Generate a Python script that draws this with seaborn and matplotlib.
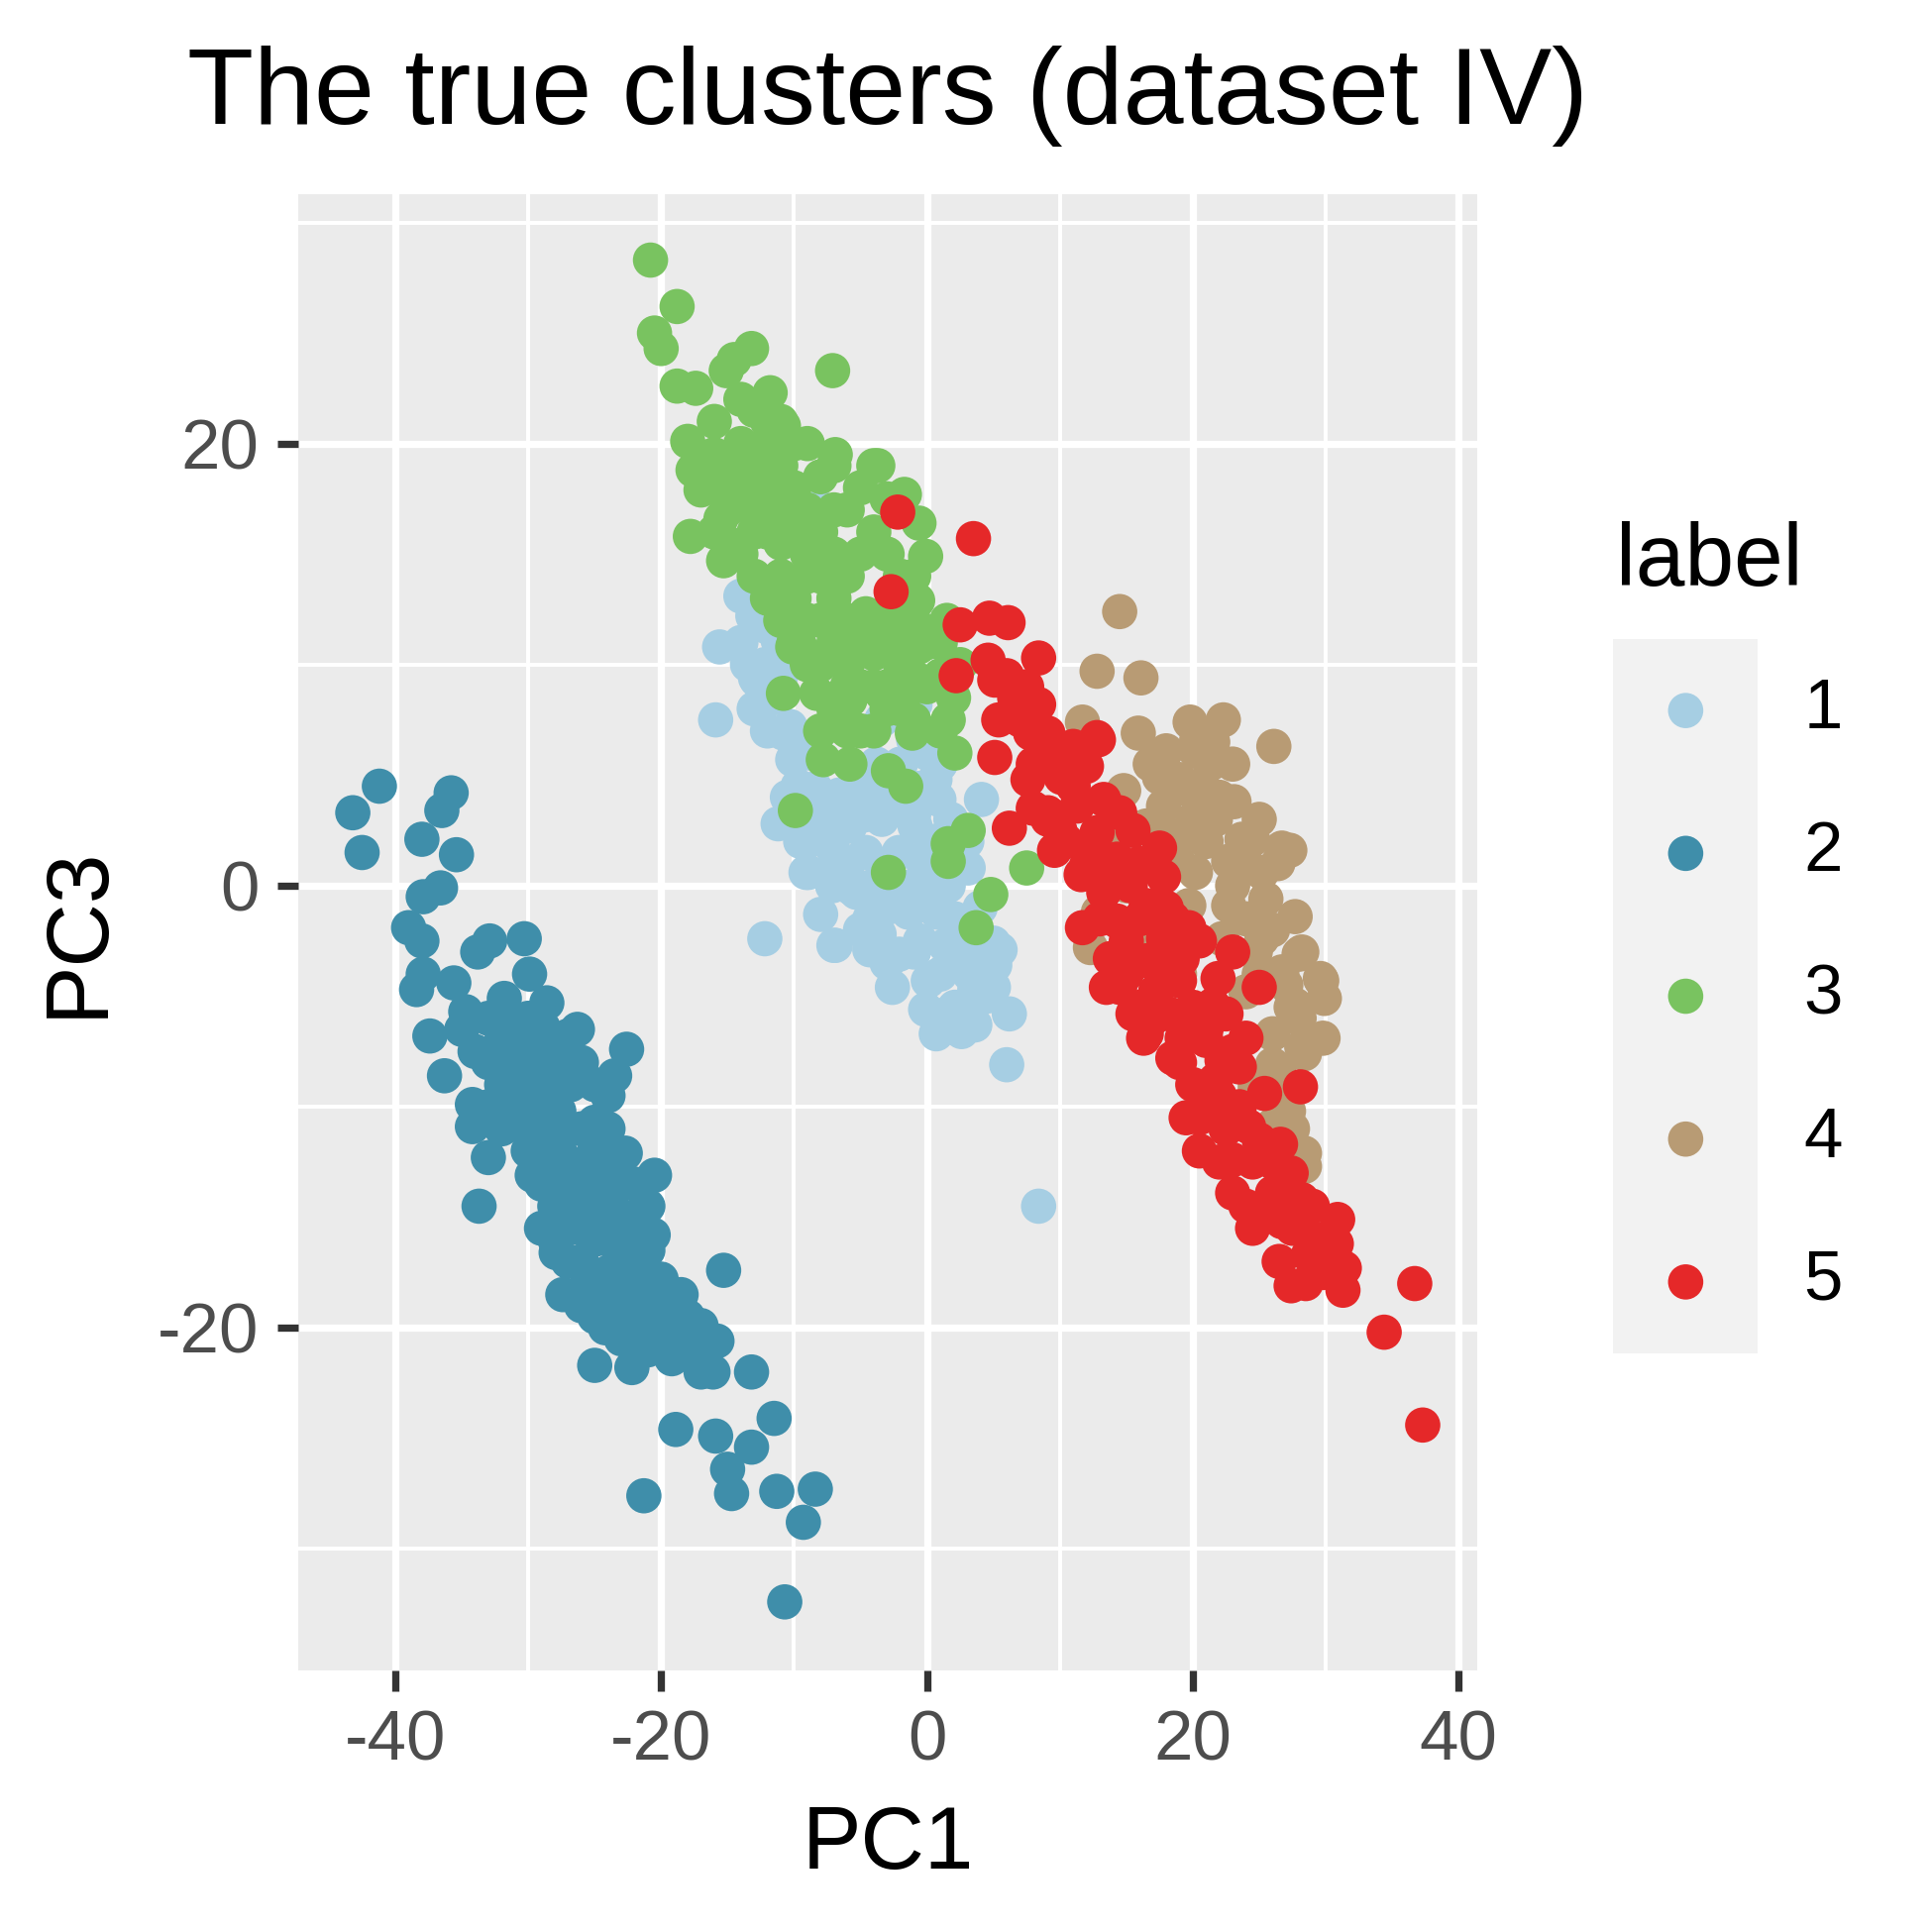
import pandas as pd
import seaborn as sns
import matplotlib.pyplot as plt
from matplotlib.ticker import MultipleLocator

# cluster labels and colours
labels = ["1", "2", "3", "4", "5"]
colors = ["#A6CEE3", "#3F8EAA", "#79C360", "#B89B74", "#E52829"]

# (PC1, PC3), one list per true cluster
c1_pts = [
    (-14.0, 13.1), (-15.6, 10.8), (-12.9, 9.4), (-15.9, 7.5), (-12.2, -2.4), (8.4, -14.5),
    (6.0, -8.1), (6.2, -5.8), (4.1, 3.9), (-13.3, 13.2), (-12.0, 11.7), (-12.8, 9.3),
    (-8.1, 17.1), (-11.2, 2.8), (-10.3, 7.2), (-9.7, 4.5), (-9.1, 0.6), (-8.0, -1.3),
    (-7.0, -2.7), (-3.6, -2.2), (-2.1, -3.1), (-2.6, -4.6), (0.1, -4.3), (-0.1, -5.6),
    (0.7, -6.7), (2.6, -6.6), (3.6, -6.3), (5.1, -3.6), (5.0, -2.6), (3.6, -4.7),
    (3.1, 0.8), (0.6, 4.8), (0.9, 3.9), (-0.9, 2.7), (-3.4, 3.0), (-5.8, 2.7),
    (-7.1, 1.7), (-4.6, 1.5), (-2.1, 1.5), (-0.4, 1.2), (1.6, 0.0), (0.4, -1.0),
    (2.1, -1.5), (-5.3, -0.3), (-7.1, 0.0), (-4.3, -1.5), (-1.4, -1.2), (1.4, -2.7),
    (2.9, -3.1), (2.1, -5.5), (-10.8, 6.9), (-8.3, 4.2), (-8.8, 6.0), (-10.1, 5.7),
    (-3.4, 7.5), (-0.9, 8.2), (-2.3, 8.7), (-8.9, 0.6), (-6.9, -2.7), (-4.3, -2.9),
    (-5.7, -0.1), (-6.6, 1.0), (-7.5, 2.1), (-2.9, 0.4), (-1.0, -0.1), (0.8, -1.2),
    (2.2, -2.4), (3.2, -4.0), (1.8, 3.0), (-1.0, 3.2), (-2.9, 3.8), (-4.7, 3.2),
    (-6.6, 4.1), (-8.4, 4.4), (-8.4, 6.6), (-6.6, 7.7), (-3.8, 5.5), (-0.6, 4.4),
    (-1.0, 6.6), (-12.2, 10.0), (-11.2, 11.1), (-13.1, 12.2), (5.0, -4.6), (1.8, -5.7),
    (4.5, -4.0), (5.5, -2.9), (-9.0, 2.0), (-8.0, 3.0), (-6.0, 3.5), (-5.0, 4.5),
    (-4.0, 5.0), (-2.0, 5.5), (0.0, 6.0), (1.0, 5.5), (-6.0, 0.5), (-4.0, 0.0),
    (-3.0, -1.0), (-2.0, -0.5), (0.0, 0.5), (1.0, 1.0), (2.0, 2.0), (3.0, 2.0),
    (2.0, -3.5), (1.0, -4.0), (-1.0, -3.0), (-3.0, -3.5), (-5.0, -2.0), (4.0, -1.0),
    (3.0, -5.5), (4.5, -5.0), (-0.5, -2.5), (0.5, 2.0), (-1.0, 0.0), (-9.5, 2.0),
    (-10.5, 4.0), (-11.5, 8.5), (-12.0, 7.0), (-13.0, 8.0), (-14.0, 11.0), (-11.0, 9.5),
    (-13.5, 10.0),
]
c2_pts = [
    (-41.2, 4.5), (-43.2, 3.3), (-42.5, 1.5), (-35.8, 4.2), (-36.5, 3.4), (-38.0, 2.1),
    (-35.4, 1.4), (-36.6, -0.1), (-37.9, -0.5), (-39.0, -1.9), (-38.0, -2.5), (-37.9, -4.0),
    (-38.4, -4.7), (-35.6, -4.4), (-33.8, -3.0), (-32.9, -2.5), (-30.3, -2.4), (-29.9, -4.0),
    (-28.6, -5.3), (-26.3, -6.5), (-22.6, -7.4), (-23.5, -8.6), (-37.4, -6.8), (-36.3, -8.6),
    (-34.2, -9.9), (-34.2, -10.9), (-33.0, -12.3), (-34.7, -5.7), (-31.8, -5.1), (-29.7, -7.5),
    (-28.9, -6.4), (-31.4, -7.9), (-26.8, -9.0), (-25.0, -10.7), (-29.7, -13.1), (-20.5, -13.1),
    (-22.7, -12.1), (-27.7, -11.7), (-30.2, -10.9), (-30.2, -9.4), (-27.7, -10.2), (-25.2, -13.1),
    (-27.2, -13.9), (-23.7, -13.9), (-33.7, -14.5), (-26.7, -14.5), (-23.7, -14.5), (-20.6, -15.8),
    (-27.9, -16.6), (-25.0, -16.0), (-22.5, -16.4), (-27.4, -18.5), (-25.5, -17.8), (-20.0, -17.8),
    (-15.3, -17.4), (-18.5, -18.5), (-23.0, -19.0), (-24.2, -20.0), (-21.5, -19.9), (-17.0, -19.9),
    (-15.8, -20.6), (-25.0, -21.7), (-22.2, -21.8), (-19.2, -21.4), (-17.0, -22.0), (-16.1, -22.0),
    (-13.2, -22.0), (-18.9, -24.6), (-15.9, -24.9), (-13.2, -25.4), (-11.5, -24.1), (-15.0, -26.4),
    (-14.7, -27.5), (-11.3, -27.4), (-8.4, -27.3), (-9.3, -28.8), (-21.3, -27.6), (-10.7, -32.4),
    (-33.0, -6.0), (-32.0, -7.0), (-31.0, -6.5), (-30.0, -6.0), (-29.0, -8.5), (-28.0, -7.5),
    (-27.0, -8.0), (-26.0, -8.0), (-32.0, -9.0), (-31.0, -10.0), (-29.0, -11.0), (-28.0, -9.5),
    (-27.0, -12.5), (-26.0, -11.0), (-26.0, -13.0), (-25.0, -12.0), (-24.0, -11.0), (-24.0, -13.0),
    (-28.0, -14.5), (-29.0, -15.5), (-26.0, -15.5), (-24.0, -16.0), (-23.0, -17.5), (-21.0, -16.5),
    (-22.0, -18.5), (-20.0, -19.0), (-19.0, -20.0), (-18.0, -19.5), (-26.0, -17.0), (-24.5, -18.5),
    (-35.0, -6.5), (-34.0, -7.5), (-33.0, -8.0), (-33.0, -10.0), (-32.0, -11.0), (-31.0, -8.5),
    (-30.0, -8.0), (-30.0, -12.0), (-29.0, -10.0), (-29.0, -13.5), (-28.0, -12.5), (-28.0, -16.0),
    (-27.0, -15.5), (-27.0, -17.0), (-26.0, -14.0), (-26.0, -19.0), (-25.0, -14.5), (-25.0, -19.5),
    (-24.0, -15.0), (-24.0, -17.5), (-23.0, -16.0), (-23.0, -20.5), (-22.0, -15.0), (-22.0, -17.0),
    (-21.0, -18.0), (-21.0, -21.0), (-20.0, -20.5), (-19.0, -18.5), (-18.0, -21.0), (-17.0, -21.0),
    (-27.0, -6.8), (-25.0, -9.0), (-24.0, -9.5), (-22.0, -13.5), (-21.0, -14.5),
]
c3_pts = [
    (-20.8, 28.3), (-18.8, 26.2), (-20.5, 25.0), (-20.0, 24.3), (-7.1, 23.3), (-18.8, 22.6),
    (-17.4, 22.5), (-13.2, 24.3), (-14.5, 23.8), (-15.1, 23.3), (-11.8, 22.3), (-10.8, 20.8),
    (-18.0, 20.1), (-17.6, 18.8), (-17.0, 17.9), (-17.8, 15.8), (-15.3, 14.7), (-15.5, 16.6),
    (-6.9, 19.5), (-3.7, 19.0), (-1.7, 17.7), (-0.6, 16.4), (-0.1, 14.9), (-0.7, 12.9),
    (-0.6, 10.8), (-9.1, 10.3), (-10.1, 10.8), (-10.8, 8.7), (-9.9, 3.4), (-2.9, 0.6),
    (1.6, 1.1), (3.1, 2.5), (1.6, 1.9), (4.8, -0.4), (3.7, -1.9), (7.5, 0.8),
    (-1.6, 4.5), (-2.9, 5.2), (-5.8, 5.5), (-7.8, 5.7), (1.6, 7.5), (2.1, 6.0),
    (-1.1, 6.9), (-8.3, 8.7), (-5.8, 8.4), (-3.4, 8.7), (-0.9, 9.4), (-0.9, 10.8),
    (-9.6, 10.9), (-7.1, 11.7), (-10.8, 12.6), (-4.6, 12.3), (-2.1, 12.6),
    (-15.0, 19.0), (-14.0, 18.0), (-13.0, 19.0), (-12.0, 20.0), (-11.0, 19.0), (-10.0, 18.0),
    (-13.0, 17.0), (-12.0, 16.0), (-11.0, 17.0), (-10.0, 16.0), (-9.0, 17.0), (-8.0, 16.0),
    (-9.0, 15.0), (-8.0, 14.0), (-7.0, 15.0), (-6.0, 14.0), (-5.0, 15.0), (-4.0, 16.0),
    (-3.0, 15.0), (-2.0, 14.0), (-14.0, 15.0), (-13.0, 14.0), (-12.0, 13.0), (-11.0, 14.0),
    (-10.0, 13.0), (-9.0, 12.0), (-8.0, 12.0), (-7.0, 13.0), (-6.0, 12.0), (-5.0, 11.0),
    (-4.0, 12.0), (-3.0, 11.0), (-2.0, 12.0), (-1.0, 12.0), (-10.0, 11.0), (-9.0, 10.0),
    (-8.0, 10.0), (-7.0, 11.0), (-6.0, 10.0), (-5.0, 9.0), (-4.0, 9.0), (-3.0, 9.0),
    (-2.0, 10.0), (-1.0, 9.0), (0.0, 9.0), (-7.0, 8.0), (-6.0, 7.0), (-5.0, 7.0),
    (-4.0, 7.0), (-3.0, 8.0), (-2.0, 8.0), (-16.0, 16.0), (-15.0, 17.0), (-12.0, 21.0),
    (-11.0, 21.0), (-10.0, 20.0), (-9.0, 20.0), (-8.0, 18.5), (-6.0, 17.0), (-5.0, 18.0),
    (-4.0, 19.0), (-2.0, 17.0), (1.0, 11.0), (1.0, 7.0), (2.5, 10.0), (2.0, 8.5),
    (-16.0, 21.0), (-14.0, 22.0), (-16.0, 19.5), (-13.0, 21.5), (-14.0, 20.0), (-16.0, 18.0),
    (-15.0, 15.5), (-11.0, 15.5), (-7.0, 17.0), (-3.0, 17.5), (-1.0, 14.0), (0.0, 11.0),
    (-1.0, 7.5), (-4.0, 10.5), (-6.0, 9.0), (-8.0, 7.0), (-9.0, 14.0), (-11.0, 12.0),
    (-13.0, 16.0), (1.0, 9.5), (-12.0, 18.0), (-7.0, 19.0), (1.5, 12.0),
]
c4_pts = [
    (14.5, 12.4), (12.8, 9.7), (16.1, 9.4), (11.7, 7.4), (15.9, 6.9), (19.8, 7.4),
    (22.3, 7.5), (26.1, 6.3), (20.2, 6.1), (16.8, 5.5), (14.8, 4.3), (19.0, 4.8),
    (20.7, 4.5), (21.5, 3.6), (17.8, 3.6), (16.5, 2.7), (23.7, 2.1), (26.7, 1.7),
    (22.7, 1.1), (20.2, 0.6), (25.2, 0.6), (19.7, -0.9), (22.7, -0.9), (25.5, -0.6),
    (27.7, -1.4), (22.2, -2.4), (25.2, -2.4), (28.2, -3.0), (26.7, -3.9), (29.7, -4.3),
    (29.9, -5.1), (27.7, -5.4), (29.8, -6.9), (28.4, -7.6), (26.0, -8.1), (24.0, -4.8),
    (12.3, -2.8), (29.6, -4.2), (28.2, -7.3), (26.0, -6.7), (27.2, -10.2), (28.4, -12.1),
    (28.4, -12.7), (28.0, -3.1), (24.7, -3.0), (27.4, -5.5), (26.5, -8.5), (21.3, 5.5),
    (19.4, 4.4), (17.5, 4.9), (23.1, 3.8), (21.7, 3.0), (24.5, 2.1), (27.3, 1.6),
    (26.4, 1.0), (18.9, 2.1), (17.5, 2.7), (12.9, -1.2), (24.7, -9.1), (26.1, -10.8),
    (18.0, 6.1), (20.3, 6.6), (15.0, 0.0), (17.0, -2.0), (19.0, -4.0), (14.0, 2.0),
    (21.0, 2.0), (23.0, 0.0), (24.0, -1.5), (26.0, -2.0), (27.0, -4.5), (28.0, -6.0),
    (25.0, -4.0), (24.0, 1.0), (22.0, 4.0), (20.0, 3.0), (19.0, 1.0), (25.0, 3.0),
    (23.0, 5.5), (21.5, 6.5), (27.0, -9.0), (27.5, -11.0),
]
c5_pts = [
    (-2.2, 16.9), (3.5, 15.7), (-2.7, 13.3), (2.5, 11.8), (4.7, 12.1), (6.1, 11.9),
    (8.4, 10.3), (2.2, 9.5), (4.6, 10.2), (5.1, 9.3), (6.6, 8.5), (8.4, 8.2),
    (5.4, 7.5), (5.1, 5.8), (7.8, 6.9), (12.8, 6.7), (12.0, 5.4), (9.6, 6.0),
    (7.6, 4.8), (6.2, 2.6), (9.6, 1.6), (9.1, 3.3), (11.3, 3.6), (13.3, 3.9),
    (14.5, 3.3), (12.8, 2.4), (17.5, 1.7), (12.0, 0.9), (14.3, 1.2), (17.8, 0.4),
    (15.3, 0.0), (13.3, -0.3), (11.7, -1.9), (14.3, -1.6), (16.5, -0.9), (19.7, -1.9),
    (17.8, -2.4), (13.8, -3.3), (16.5, -3.4), (19.2, -3.3), (14.5, -4.6), (17.2, -4.8),
    (21.9, -4.2), (25.0, -4.6), (15.5, -5.8), (18.2, -5.8), (21.5, -5.4), (16.5, -6.7),
    (19.2, -6.9), (24.0, -6.9), (18.5, -7.8), (22.2, -7.9), (28.1, -9.1), (25.4, -9.4),
    (20.5, -12.0), (23.0, -12.4), (21.0, -10.0), (24.2, -10.9), (26.6, -11.7), (23.0, -13.9),
    (27.4, -13.0), (28.2, -14.2), (26.0, -13.9), (24.5, -15.5), (26.7, -15.2), (30.9, -15.1),
    (28.7, -16.7), (30.8, -16.2), (31.4, -17.3), (27.4, -18.1), (31.3, -18.3), (29.8, -17.5),
    (36.7, -18.0), (34.4, -20.2), (37.3, -24.4), (19.0, -4.3), (16.0, -5.5), (16.3, -6.9),
    (21.0, -7.0), (23.5, -8.2), (21.7, -8.8), (13.5, -4.6), (22.5, -5.8), (9.1, 6.9),
    (9.1, 3.0), (11.6, 0.5), (10.1, 4.9), (11.0, 6.3), (12.9, 6.6), (20.0, -9.0),
    (22.0, -9.5), (22.5, -11.0), (19.5, -10.5), (24.5, -12.5), (25.5, -14.5), (27.5, -15.5),
    (29.5, -16.0), (23.0, -3.0), (20.5, -2.5), (18.0, -1.0), (15.5, 2.5), (10.5, 2.0),
    (8.0, 5.5), (7.0, 7.5), (6.0, 9.5), (7.5, 9.0), (10.0, 5.5), (11.0, 4.5),
    (8.0, 3.5), (10.0, 2.5), (12.5, 1.5), (13.0, -1.5), (15.0, -2.5), (16.0, -1.5),
    (15.0, -4.0), (18.0, -3.5), (17.0, -6.0), (20.0, -5.5), (19.0, -8.0), (21.0, -6.5),
    (23.0, -7.5), (20.5, -10.5), (22.0, -12.5), (23.5, -10.0), (25.0, -11.5), (24.0, -14.5),
    (26.0, -12.5), (27.0, -14.0), (28.0, -15.0), (29.0, -14.5), (30.0, -17.0), (26.5, -17.0),
    (28.5, -18.0), (16.0, 1.0), (14.0, 0.5), (18.5, -1.5),
]

rows = []
for lab, pts in zip(labels, [c1_pts, c2_pts, c3_pts, c4_pts, c5_pts]):
    for x, y in pts:
        rows.append((x, y, lab))
df = pd.DataFrame(rows, columns=["PC1", "PC3", "label"])

sns.set_theme(style="darkgrid", rc={"axes.facecolor": "#EBEBEB", "grid.color": "white"})
plt.rcParams["font.family"] = ["Liberation Sans", "DejaVu Sans"]
plt.rcParams["axes.unicode_minus"] = False

fig = plt.figure(figsize=(6.5, 6.5), dpi=300)
ax = fig.add_axes([0.1544, 0.1354, 0.6102, 0.7643])

sns.scatterplot(data=df, x="PC1", y="PC3", hue="label",
                palette=dict(zip(labels, colors)), s=73, linewidth=0,
                legend=False, ax=ax, zorder=3)

ax.set_xlim(-47.3, 41.4)
ax.set_ylim(-35.5, 31.3)
ax.xaxis.set_major_locator(MultipleLocator(20))
ax.xaxis.set_minor_locator(MultipleLocator(10))
ax.yaxis.set_major_locator(MultipleLocator(20))
ax.yaxis.set_minor_locator(MultipleLocator(10))
ax.grid(which="major", color="white", linewidth=1.75)
ax.grid(which="minor", color="white", linewidth=0.95)
ax.set_axisbelow(True)
ax.tick_params(which="major", length=5, width=1.75, color="#333333",
               labelsize=17, labelcolor="#4D4D4D", pad=4.5,
               bottom=True, left=True)
ax.tick_params(which="minor", length=0)
for sp in ax.spines.values():
    sp.set_visible(False)
ax.set_xlabel("")
ax.set_ylabel("")

# axis titles and plot title
fig.text(0.4595, 0.936, "The true clusters (dataset IV)", fontsize=26.3,
         color="black", ha="center", va="baseline")
fig.text(0.4595, 0.0328, "PC1", fontsize=21.4, color="black", ha="center", va="baseline")
fig.text(0.041, 0.5176, "PC3", fontsize=21.4, color="black", rotation=90,
         ha="center", va="center")

# legend drawn like ggplot: grey key column, labels to the right
lax = fig.add_axes([0.835, 0.2995, 0.075, 0.3697])
lax.set_facecolor("#F2F2F2")
lax.grid(False)
lax.set_xlim(0, 1)
lax.set_ylim(0, 5)
key_y = [4.5, 3.5, 2.5, 1.5, 0.5]
lax.scatter([0.5] * 5, key_y, c=colors, s=73, linewidths=0)
for lab, yk in zip(labels, key_y):
    lax.text(1.315, yk, lab, fontsize=17, color="black", ha="left", va="center",
             clip_on=False)
lax.set_xticks([])
lax.set_yticks([])
for sp in lax.spines.values():
    sp.set_visible(False)
fig.text(0.8364, 0.697, "label", fontsize=21.4, color="black", ha="left", va="baseline")

fig.savefig("out.png", dpi=300)
